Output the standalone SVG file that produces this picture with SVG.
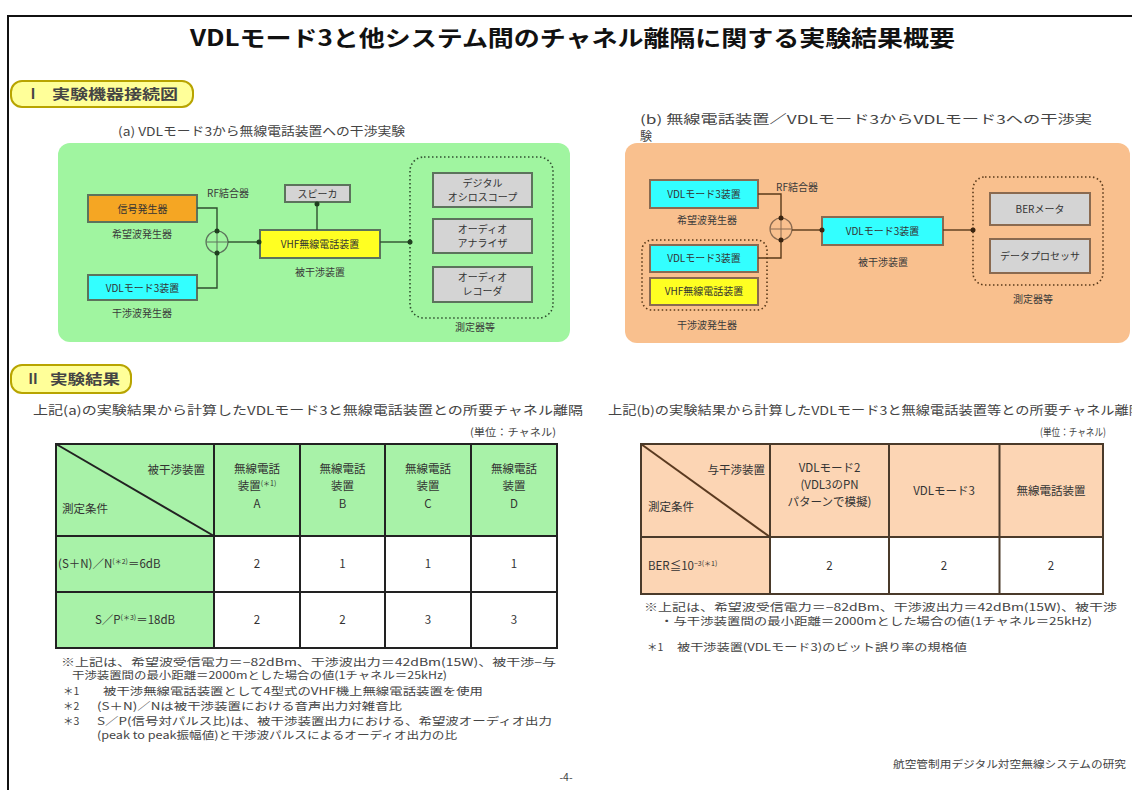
<svg xmlns="http://www.w3.org/2000/svg" width="1132" height="790" viewBox="0 0 1132 790">
<style>
text{font-family:'Noto Sans CJK JP','Noto Sans',sans-serif;fill:#333}
.title{font-size:22px;fill:#111;font-weight:bold}
.badge{fill:#ffff99;stroke:#b8a400;stroke-width:2}
.badgeT{font-size:14px;font-weight:bold;fill:#444}
.cap{font-size:12px;fill:#444}
.bx{font-size:10px;text-anchor:middle;fill:#333}
.lb{font-size:10px;text-anchor:middle;fill:#3a3a3a}
.ga{stroke:#5c735c;stroke-width:2}
.gb{stroke:#8a6a50;stroke-width:2}
.orange{fill:#f5a623}
.cyan{fill:#33ffff}
.yellow{fill:#ffff22}
.gray{fill:#d4d4d4}
.dotA{fill:none;stroke:#2f4f2f;stroke-width:1.6;stroke-dasharray:1.5 2.5}
.dotB{fill:none;stroke:#5a3a1a;stroke-width:1.6;stroke-dasharray:1.5 2.5}
.ca{fill:none;stroke:#2f4f2f;stroke-width:1.4}
.cb{fill:none;stroke:#5a3a1a;stroke-width:1.4}
.tc{font-size:11.5px;fill:#333}
.tm{text-anchor:middle}
.note{font-size:10.5px;fill:#444}
</style>

<!-- frame -->
<path d="M8,790 V16 H1132" fill="none" stroke="#111" stroke-width="2"/>

<text class="title" x="190" y="46" textLength="765" lengthAdjust="spacingAndGlyphs">VDLモード3と他システム間のチャネル離隔に関する実験結果概要</text>

<!-- Section I -->
<g id="sec1">
<rect class="badge" x="11" y="81" width="182" height="26" rx="11"/>
<text class="badgeT" x="26" y="99">Ⅰ</text>
<text class="badgeT" x="52" y="99" textLength="126" lengthAdjust="spacingAndGlyphs">実験機器接続図</text>
</g>

<text class="cap" x="118" y="136" textLength="287" lengthAdjust="spacingAndGlyphs">(a) VDLモード3から無線電話装置への干渉実験</text>
<text class="cap" x="640" y="124" textLength="452" lengthAdjust="spacingAndGlyphs">(b) 無線電話装置／VDLモード3からVDLモード3への干渉実</text>
<text class="cap" x="640" y="141">験</text>

<!-- Panel a -->
<g id="panelA">
<rect x="58" y="143" width="512" height="199" rx="12" fill="#a0f5a0"/>
</g>
<g id="a_sig"><rect class="orange ga" x="88" y="195" width="109" height="27"/><text class="bx" x="142.5" y="212.5">信号発生器</text><text class="lb" x="142" y="238">希望波発生器</text></g>
<g id="a_vdl"><rect class="cyan ga" x="88" y="275" width="109" height="25"/><text class="bx" x="142.5" y="291.5">VDLモード3装置</text><text class="lb" x="142" y="317">干渉波発生器</text></g>
<g id="a_rf"><text class="lb" x="228" y="197">RF結合器</text><circle cx="217" cy="242" r="11" fill="none" stroke="#5c735c" stroke-width="1.2"/><path d="M206,242 H228 M217,231 V253" stroke="#5c735c" stroke-width="1"/></g>
<g id="a_spk"><rect class="gray ga" x="285" y="185" width="65" height="17"/><text class="bx" x="317.5" y="197.5">スピーカ</text></g>
<g id="a_vhf"><rect class="yellow ga" x="260" y="230" width="120" height="28"/><text class="bx" x="320" y="248">VHF無線電話装置</text><text class="lb" x="320" y="276">被干渉装置</text></g>
<g id="a_meas">
<rect class="dotA" x="410" y="157" width="143" height="161" rx="14"/>
<rect class="gray ga" x="433" y="173" width="99" height="34"/><text class="bx" x="482.5" y="187">デジタル</text><text class="bx" x="482.5" y="201">オシロスコープ</text>
<rect class="gray ga" x="433" y="219" width="99" height="34"/><text class="bx" x="482.5" y="233">オーディオ</text><text class="bx" x="482.5" y="247">アナライザ</text>
<rect class="gray ga" x="433" y="267" width="99" height="35"/><text class="bx" x="482.5" y="281">オーディオ</text><text class="bx" x="482.5" y="295">レコーダ</text>
<text class="lb" x="475" y="331">測定器等</text>
</g>

<!-- Panel b -->
<g id="panelB">
<rect x="625" y="143" width="505" height="200" rx="12" fill="#f9c08e"/>
</g>
<g id="b_des"><rect class="cyan gb" x="650" y="180" width="108" height="28"/><text class="bx" x="704" y="198">VDLモード3装置</text><text class="lb" x="707" y="224">希望波発生器</text></g>
<g id="b_int">
<rect class="dotB" x="642" y="240" width="125" height="70" rx="10"/>
<rect class="cyan gb" x="650" y="245" width="108" height="27"/><text class="bx" x="704" y="262">VDLモード3装置</text>
<rect class="yellow gb" x="650" y="278" width="108" height="27"/><text class="bx" x="704" y="295">VHF無線電話装置</text>
<text class="lb" x="707" y="329">干渉波発生器</text>
</g>
<g id="b_rf"><text class="lb" x="797" y="191">RF結合器</text><circle cx="781" cy="229" r="11" fill="none" stroke="#8a6a50" stroke-width="1.2"/><path d="M770,229 H792 M781,218 V240" stroke="#8a6a50" stroke-width="1"/></g>
<g id="b_dut"><rect class="cyan gb" x="822" y="217" width="121" height="28"/><text class="bx" x="882.5" y="235">VDLモード3装置</text><text class="lb" x="883" y="266">被干渉装置</text></g>
<g id="b_meas">
<rect class="dotB" x="973" y="177" width="130" height="108" rx="12"/>
<rect class="gray gb" x="990" y="193" width="100" height="32"/><text class="bx" x="1040" y="213">BERメータ</text>
<rect class="gray gb" x="990" y="239" width="100" height="34"/><text class="bx" x="1040" y="260">データプロセッサ</text>
<text class="lb" x="1033" y="303">測定器等</text>
</g>

<!-- connectors -->
<g id="connectors">
<path class="ca" d="M197,208 H217 V231"/>
<path class="ca" d="M197,288 H217 V253"/>
<path class="ca" d="M228,242 H260"/>
<path class="ca" d="M317,202 V230"/>
<path class="ca" d="M380,242 H410"/>
<circle cx="217" cy="231" r="2.5" fill="#1f3f1f"/>
<circle cx="217" cy="253" r="2.5" fill="#1f3f1f"/>
<circle cx="259" cy="242" r="2.5" fill="#1f3f1f"/>
<circle cx="317" cy="204" r="2.5" fill="#1f3f1f"/>
<circle cx="410" cy="242" r="2.5" fill="#1f3f1f"/>
<path class="cb" d="M758,194 H781 V218"/>
<path class="cb" d="M758,258 H781 V240"/>
<path class="cb" d="M792,230 H822"/>
<path class="cb" d="M943,230 H973"/>
<circle cx="781" cy="218" r="2.5" fill="#3a2410"/>
<circle cx="781" cy="240" r="2.5" fill="#3a2410"/>
<circle cx="822" cy="230" r="2.5" fill="#3a2410"/>
<circle cx="973" cy="230" r="2.5" fill="#3a2410"/>
</g>

<!-- Section II -->
<g id="sec2">
<rect class="badge" x="11" y="365" width="120" height="28" rx="11"/>
<text class="badgeT" x="26" y="384">Ⅱ</text>
<text class="badgeT" x="50" y="384" textLength="70" lengthAdjust="spacingAndGlyphs">実験結果</text>
</g>

<text class="cap" x="33" y="415" textLength="550" lengthAdjust="spacingAndGlyphs">上記(a)の実験結果から計算したVDLモード3と無線電話装置との所要チャネル離隔</text>
<text class="note" x="470" y="436" textLength="86" lengthAdjust="spacingAndGlyphs">(単位：チャネル)</text>
<text class="cap" x="608" y="415" textLength="535" lengthAdjust="spacingAndGlyphs">上記(b)の実験結果から計算したVDLモード3と無線電話装置等との所要チャネル離隔</text>
<text class="note" x="1040" y="436" textLength="66" lengthAdjust="spacingAndGlyphs">(単位：チャネル)</text>

<!-- Table a -->
<g id="tableA">
<rect x="56" y="444" width="501" height="92" fill="#a8f2a8"/>
<rect x="56" y="536" width="158" height="112" fill="#a8f2a8"/>
<rect x="214" y="536" width="343" height="112" fill="#fff"/>
<path d="M56,444 L214,536" stroke="#222" stroke-width="2"/>
<path d="M56,444 H557 V648 H56 Z M56,536 H557 M56,592 H557 M214,444 V648 M300,444 V648 M385,444 V648 M471,444 V648" fill="none" stroke="#222" stroke-width="2"/>
<text class="tc" x="205" y="474" text-anchor="end">被干渉装置</text>
<text class="tc" x="62" y="513">測定条件</text>
<text class="tc tm" x="257" y="473">無線電話</text>
<text class="tc tm" x="257" y="490">装置<tspan font-size="7" dy="-4">(＊1)</tspan></text>
<text class="tc tm" x="257" y="508">A</text>
<text class="tc tm" x="342.5" y="473">無線電話</text>
<text class="tc tm" x="342.5" y="490">装置</text>
<text class="tc tm" x="342.5" y="508">B</text>
<text class="tc tm" x="428" y="473">無線電話</text>
<text class="tc tm" x="428" y="490">装置</text>
<text class="tc tm" x="428" y="508">C</text>
<text class="tc tm" x="514" y="473">無線電話</text>
<text class="tc tm" x="514" y="490">装置</text>
<text class="tc tm" x="514" y="508">D</text>
<text class="tc" x="58" y="568">(S＋N)／N<tspan font-size="7" dy="-4">(＊2)</tspan><tspan dy="4">＝6dB</tspan></text>
<text class="tc tm" x="257" y="568">2</text>
<text class="tc tm" x="342.5" y="568">1</text>
<text class="tc tm" x="428" y="568">1</text>
<text class="tc tm" x="514" y="568">1</text>
<text class="tc tm" x="135" y="624">S／P<tspan font-size="7" dy="-4">(＊3)</tspan><tspan dy="4">＝18dB</tspan></text>
<text class="tc tm" x="257" y="624">2</text>
<text class="tc tm" x="342.5" y="624">2</text>
<text class="tc tm" x="428" y="624">3</text>
<text class="tc tm" x="514" y="624">3</text>
</g>

<!-- Table b -->
<g id="tableB">
<rect x="641" y="444" width="462" height="93" fill="#fcd5b4"/>
<rect x="641" y="537" width="129" height="57" fill="#fcd5b4"/>
<rect x="770" y="537" width="333" height="57" fill="#fff"/>
<path d="M641,444 L770,537" stroke="#5a3a20" stroke-width="2"/>
<path d="M641,444 H1103 V594 H641 Z M641,537 H1103 M770,444 V594 M889,444 V594 M999.5,444 V594" fill="none" stroke="#4a3a2a" stroke-width="2"/>
<text class="tc" x="765" y="474" text-anchor="end">与干渉装置</text>
<text class="tc" x="648" y="511">測定条件</text>
<text class="tc tm" x="829.5" y="472">VDLモード2</text>
<text class="tc tm" x="829.5" y="489">(VDL3のPN</text>
<text class="tc tm" x="829.5" y="506">パターンで模擬)</text>
<text class="tc tm" x="944" y="495">VDLモード3</text>
<text class="tc tm" x="1051" y="495">無線電話装置</text>
<text class="tc" x="648" y="570">BER≦10<tspan font-size="7" dy="-4">−3(＊1)</tspan></text>
<text class="tc tm" x="829.5" y="570">2</text>
<text class="tc tm" x="944" y="570">2</text>
<text class="tc tm" x="1051" y="570">2</text>
</g>

<!-- notes a -->
<g id="notesA">
<text class="note" x="61" y="666" textLength="495" lengthAdjust="spacingAndGlyphs">※上記は、希望波受信電力＝−82dBm、干渉波出力＝42dBm(15W)、被干渉−与</text>
<text class="note" x="72" y="679" textLength="375" lengthAdjust="spacingAndGlyphs">干渉装置間の最小距離＝2000mとした場合の値(1チャネル＝25kHz)</text>
<text class="note" x="63" y="695">＊1</text>
<text class="note" x="103" y="695" textLength="380" lengthAdjust="spacingAndGlyphs">被干渉無線電話装置として4型式のVHF機上無線電話装置を使用</text>
<text class="note" x="63" y="710">＊2</text>
<text class="note" x="97" y="710" textLength="305" lengthAdjust="spacingAndGlyphs">(S＋N)／Nは被干渉装置における音声出力対雑音比</text>
<text class="note" x="63" y="725">＊3</text>
<text class="note" x="97" y="725" textLength="455" lengthAdjust="spacingAndGlyphs">S／P(信号対パルス比)は、被干渉装置出力における、希望波オーディオ出力</text>
<text class="note" x="97" y="739" textLength="360" lengthAdjust="spacingAndGlyphs">(peak to peak振幅値)と干渉波パルスによるオーディオ出力の比</text>
</g>

<!-- notes b -->
<g id="notesB">
<text class="note" x="644" y="611" textLength="473" lengthAdjust="spacingAndGlyphs">※上記は、希望波受信電力＝−82dBm、干渉波出力＝42dBm(15W)、被干渉</text>
<text class="note" x="660" y="625" textLength="432" lengthAdjust="spacingAndGlyphs">・与干渉装置間の最小距離＝2000mとした場合の値(1チャネル＝25kHz)</text>
<text class="note" x="647" y="651">＊1</text>
<text class="note" x="677" y="651" textLength="290" lengthAdjust="spacingAndGlyphs">被干渉装置(VDLモード3)のビット誤り率の規格値</text>
</g>

<text class="note" x="893" y="768" textLength="233" lengthAdjust="spacingAndGlyphs">航空管制用デジタル対空無線システムの研究</text>
<text class="note" x="566" y="781" text-anchor="middle" font-size="9" fill="#888">-4-</text>
</svg>
